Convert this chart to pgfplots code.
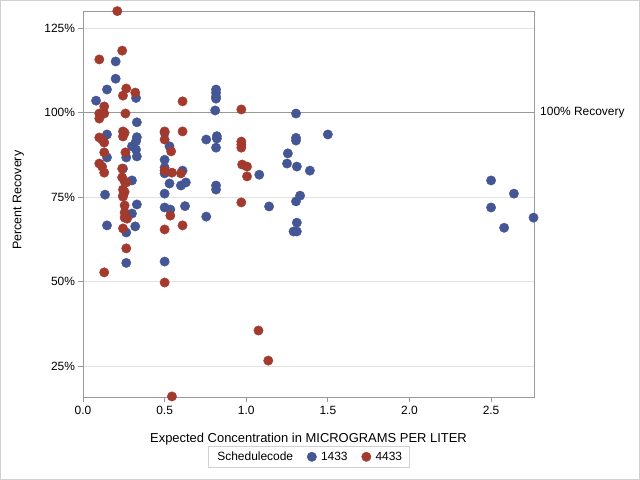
\documentclass[border=0pt]{standalone}
\usepackage{pgfplots}
\pgfplotsset{compat=1.18}
\usepackage{fontspec}
\setmainfont{Liberation Sans}
\definecolor{cblue}{HTML}{445694}
\definecolor{cred}{HTML}{A23A2E}
\definecolor{axgray}{HTML}{999999}
\definecolor{grgray}{HTML}{E2E2E2}
\definecolor{bdgray}{HTML}{D0D0D0}
\begin{document}
\begin{tikzpicture}
\draw[bdgray, line width=1bp] (0.5bp,0.5bp) rectangle (639.5bp,479.5bp);
\begin{axis}[
  at={(83bp,83bp)}, anchor=south west,
  scale only axis, width=451bp, height=386bp,
  xmin=0, xmax=2.763, ymin=15.83, ymax=130.03,
  xtick={0,0.5,1,1.5,2,2.5}, xticklabels={0.0,0.5,1.0,1.5,2.0,2.5},
  ytick={25,50,75,100,125}, yticklabels={25\%,50\%,75\%,100\%,125\%},
  ymajorgrids, major grid style={color=grgray, line width=0.8bp},
  axis line style={color=axgray, line width=0.9bp},
  tick style={color=axgray, line width=0.9bp},
  tick align=outside, major tick length=5bp, tick pos=left,
  font=\fontsize{12}{14}\selectfont,
  xticklabel style={yshift=-0.5bp},
  yticklabel style={xshift=0.5bp},
  xlabel={Expected Concentration in MICROGRAMS PER LITER},
  ylabel={Percent Recovery},
  xlabel style={at={(axis description cs:0.5,-0.108)}, anchor=center, font=\fontsize{13}{14}\selectfont},
  ylabel style={at={(axis description cs:-0.143,0.51)}, anchor=center, font=\fontsize{12.5}{14}\selectfont},
  legend columns=-1,
  legend style={at={(0.5,-0.127)}, anchor=north, draw=bdgray, font=\fontsize{12}{14}\selectfont,
    inner xsep=5bp, inner ysep=3.5bp,
    /tikz/every even column/.append style={column sep=12bp},
    /tikz/every odd column/.append style={column sep=2.5bp}},
  legend cell align=left,
]
\addlegendimage{empty legend}
\addlegendentry{Schedulecode}
\addplot[forget plot, color=axgray, line width=0.9bp] coordinates {(0,100) (2.763,100)};
\addplot[only marks, mark=*, mark size=4.7bp, color=cblue, mark options={draw=none, fill=cblue}] coordinates {
(0.08,103.5) (0.147,106.8) (0.20,110.0) (0.20,115.1) (0.325,104.3) (0.33,97.1)
(0.147,93.5) (0.147,86.7) (0.265,86.7) (0.30,90.0) (0.33,92.7) (0.325,91.5)
(0.325,89.0) (0.33,87.0) (0.245,83.4) (0.30,79.9) (0.135,75.7) (0.245,75.4)
(0.147,66.6) (0.265,55.5) (0.33,72.8) (0.30,70.1) (0.265,64.5) (0.32,66.3)
(0.50,94.0) (0.53,90.0) (0.50,86.0) (0.50,83.7) (0.50,82.0) (0.53,79.0)
(0.60,78.4) (0.63,79.3) (0.61,82.8) (0.50,76.0) (0.50,71.9) (0.535,71.3)
(0.625,72.3) (0.50,55.9) (0.755,69.2) (0.755,92.0) (0.815,106.8) (0.815,105.8)
(0.815,104.7) (0.815,104.1) (0.81,100.6) (0.82,93.0) (0.82,92.3) (0.815,89.6)
(0.815,78.4) (0.815,77.2) (1.08,81.6) (1.14,72.2) (1.305,99.7) (1.305,92.5)
(1.305,91.7) (1.50,93.5) (1.255,87.9) (1.25,84.9) (1.31,84.0) (1.39,82.8)
(1.33,75.4) (1.305,73.7) (1.31,67.4) (1.29,64.8) (1.31,64.8) (2.50,79.9)
(2.50,71.9) (2.64,76.0) (2.58,65.9) (2.76,68.9)
};
\addlegendentry{1433}
\addplot[only marks, mark=*, mark size=4.7bp, color=cred, mark options={draw=none, fill=cred}] coordinates {
(0.21,130) (0.10,115.7) (0.24,118.3) (0.265,107.1) (0.245,105.0) (0.32,105.9)
(0.13,101.8) (0.10,99.7) (0.13,99.7) (0.10,98.2) (0.26,99.7) (0.10,92.6)
(0.117,92.0) (0.13,91.1) (0.245,94.4) (0.255,94.0) (0.245,92.9) (0.26,88.2)
(0.13,88.2) (0.10,84.9) (0.117,84.0) (0.13,82.2) (0.24,83.4) (0.24,80.8)
(0.255,79.6) (0.265,79.3) (0.245,77.2) (0.255,76.5) (0.245,75.1) (0.255,72.5)
(0.255,70.4) (0.255,68.9) (0.27,68.6) (0.245,65.7) (0.265,59.8) (0.13,52.7)
(0.50,94.4) (0.50,92.0) (0.54,88.5) (0.61,103.3) (0.61,94.4) (0.50,82.8)
(0.545,82.2) (0.60,82.0) (0.535,69.5) (0.50,65.4) (0.61,66.6) (0.50,49.7)
(0.97,100.9) (0.97,91.4) (0.97,90.5) (0.97,89.6) (0.975,84.6) (1.005,84.0)
(1.005,81.1) (0.97,73.4) (1.075,35.5) (1.135,26.6) (0.545,16.0)
};
\addlegendentry{4433}
\end{axis}
\node[anchor=west, font=\fontsize{12}{14}\selectfont, inner sep=0pt] at (540bp,367bp) {100\% Recovery};
\end{tikzpicture}
\end{document}
